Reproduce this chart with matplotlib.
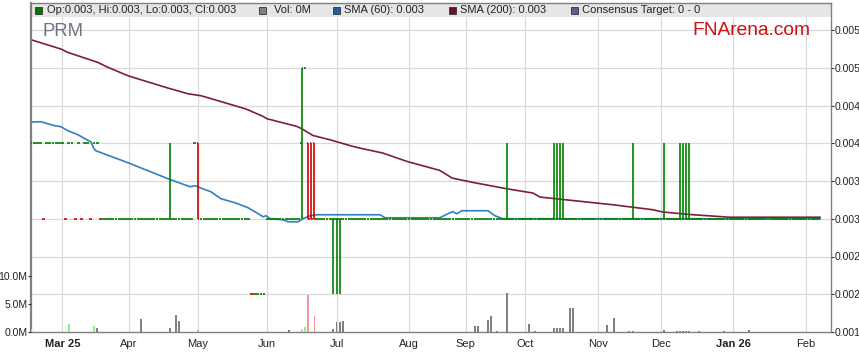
import matplotlib
matplotlib.use("Agg")
import matplotlib.pyplot as plt
from matplotlib.patches import Rectangle
from matplotlib.collections import LineCollection
import numpy as np

plt.rcParams['font.family'] = ['Liberation Sans', 'DejaVu Sans']

# ---------------- data ----------------
n_days = 251
month_labels = ['Mar 25', 'Apr', 'May', 'Jun', 'Jul', 'Aug', 'Sep', 'Oct', 'Nov', 'Dec', 'Jan 26', 'Feb']
month_start_idx = [10, 31, 53, 75, 97, 120, 138, 157, 180, 200, 223, 246]
bold_labels = ['Mar 25', 'Jan 26']

# close level runs: (first day, last day exclusive, close)
close_runs = [(0, 22, 0.004), (22, 251, 0.003)]
# flat days that closed at a different level
flat_day_idx = [4, 11, 14, 16, 19, 52, 70, 71, 72, 73, 74, 87]
flat_day_price = [0.003, 0.003, 0.003, 0.003, 0.003, 0.004, 0.002, 0.002, 0.002, 0.002, 0.002, 0.005]

# days with a trading range
bar_idx = [44, 53, 86, 88, 89, 90, 96, 97, 98, 151, 166, 167, 168, 169, 191, 201, 206, 207, 208, 209]
bar_open = [0.003, 0.004, 0.004, 0.004, 0.004, 0.004, 0.003, 0.003, 0.003, 0.003,
            0.003, 0.003, 0.003, 0.003, 0.003, 0.003, 0.003, 0.003, 0.003, 0.003]
bar_high = [0.004, 0.004, 0.005, 0.004, 0.004, 0.004, 0.003, 0.003, 0.003, 0.004,
            0.004, 0.004, 0.004, 0.004, 0.004, 0.004, 0.004, 0.004, 0.004, 0.004]
bar_low = [0.003, 0.003, 0.003, 0.003, 0.003, 0.003, 0.002, 0.002, 0.002, 0.003,
           0.003, 0.003, 0.003, 0.003, 0.003, 0.003, 0.003, 0.003, 0.003, 0.003]
bar_close = [0.003, 0.003, 0.005, 0.003, 0.003, 0.003, 0.003, 0.003, 0.003, 0.003,
             0.003, 0.003, 0.003, 0.003, 0.003, 0.003, 0.003, 0.003, 0.003, 0.003]

# volume (millions); direction u = up, d = down, n = unchanged
vol_idx = [0, 12, 20, 21, 35, 44, 46, 47, 53, 75, 82, 86, 87, 88, 90, 96, 97, 98, 99,
           141, 142, 145, 146, 148, 151, 158, 160,
           166, 167, 168, 169, 171, 172,
           183, 185, 190, 191,
           201, 205, 206, 207, 208, 209,
           212, 220, 228]
vol_m = [0.5, 1.4, 1.1, 0.7, 2.3, 0.7, 3.0, 2.0, 0.4, 0.2, 0.4, 0.6, 0.9, 6.6, 2.9, 0.6, 1.8, 1.8, 2.0,
         1.1, 1.1, 2.1, 2.9, 0.2, 7.0, 1.4, 0.2,
         0.7, 0.7, 0.7, 0.7, 4.3, 4.3,
         1.2, 2.5, 0.2, 0.2,
         0.3, 0.2, 0.2, 0.2, 0.2, 0.2,
         0.2, 0.1, 0.3]
vol_dir = ['d', 'u', 'u', 'n', 'n', 'n', 'n', 'n', 'd', 'u', 'n', 'u', 'u', 'd', 'd', 'n', 'n', 'n', 'n',
           'n', 'n', 'n', 'n', 'n', 'n', 'n', 'n',
           'n', 'n', 'n', 'n', 'n', 'n',
           'n', 'n', 'n', 'n',
           'n', 'n', 'n', 'n', 'n', 'n',
           'n', 'n', 'n']

sma60_idx = [0, 3.2, 5.4, 7.6, 9.5, 11.7, 14.9, 17.1, 19.0, 20.0, 20.6, 30.8, 43.5, 50.5, 52.1,
             53.7, 57.1, 60.3, 64.8, 68.9, 72.7, 73.7, 74.6, 75.9, 80.0, 81.6, 84.8, 86.3, 88.6,
             90.8, 110.8, 112.4, 129.8, 133.0, 134.0, 135.2, 136.8, 145.1, 147.3, 149.8, 250.5]
sma60_val = [0.004281, 0.004285, 0.004258, 0.004232, 0.004219, 0.004166, 0.004113, 0.00406,
             0.00402, 0.003927, 0.0039, 0.003742, 0.00353, 0.003424, 0.003437, 0.003411,
             0.003358, 0.003265, 0.003212, 0.003146, 0.003053, 0.003026, 0.00304, 0.003,
             0.002987, 0.00296, 0.00296, 0.003, 0.00304, 0.003053, 0.003053, 0.003013,
             0.003013, 0.003079, 0.003093, 0.003066, 0.003106, 0.003106, 0.00304, 0.003, 0.003]

sma200_idx = [0, 9.5, 11.7, 21.3, 23.8, 30.8, 34.9, 43.5, 49.8, 54, 58.4, 68.3, 73.7, 74.9,
              84.4, 86, 89.5, 94.9, 102.2, 104.4, 111.7, 119.4, 129.8, 133.7, 140.3, 151.1,
              159.4, 161.6, 184.8, 197.5, 200.6, 210.2, 221.9, 250.5]
sma200_val = [0.005371, 0.005248, 0.005203, 0.00507, 0.005017, 0.004894, 0.004841, 0.004731,
              0.004656, 0.004629, 0.004576, 0.004453, 0.004355, 0.004325, 0.004223, 0.004192,
              0.004103, 0.004046, 0.003958, 0.003936, 0.00387, 0.003759, 0.00364, 0.003539,
              0.003481, 0.003397, 0.00334, 0.003287, 0.003185, 0.003119, 0.003089, 0.003053,
              0.00302, 0.00302]

price_ticks = [0.0015, 0.002, 0.0025, 0.003, 0.0035, 0.004, 0.0045, 0.005, 0.0055]
price_tick_labels = ['0.001', '0.002', '0.002', '0.003', '0.003', '0.004', '0.004', '0.005', '0.005']
vol_ticks = [0, 5, 10]
vol_tick_labels = ['0.0M', '5.0M', '10.0M']

legend_items = ['Op:0.003, Hi:0.003, Lo:0.003, Cl:0.003', 'Vol: 0M', 'SMA (60): 0.003',
                'SMA (200): 0.003', 'Consensus Target: 0 - 0']

# ---------------- build daily OHLC ----------------
close = np.zeros(n_days)
for s, e, v in close_runs:
    close[s:e] = v
for i, v in zip(flat_day_idx, flat_day_price):
    close[i] = v
o = close.copy(); h = close.copy(); l = close.copy(); c = close.copy()
for i, bo, bh, bl, bc in zip(bar_idx, bar_open, bar_high, bar_low, bar_close):
    o[i], h[i], l[i], c[i] = bo, bh, bl, bc

# ---------------- figure ----------------
W, H = 859, 363
Lp, Rp, Tp, Bp = 31, 831, 2.7, 332
fig = plt.figure(figsize=(W / 100, H / 100), dpi=100)
fig.patch.set_facecolor('white')
ax = fig.add_axes([Lp / W, 1 - Bp / H, (Rp - Lp) / W, (Bp - Tp) / H])
axv = ax.twinx()

ax.set_xlim(0, 254)
ax.set_ylim(0.0015, 0.0015 + (Bp - Tp) / 75500)
axv.set_ylim(0, (Bp - Tp) / 28 * 5)

GREEN = '#008000'
RED = '#d40000'

# grid
for m in month_start_idx:
    ax.axvline(m, color='#d9d9d9', lw=0.9, zorder=0)
for p in price_ticks[1:]:
    ax.axhline(p, color='#d9d9d9', lw=0.9, zorder=0)

# header band
ax.add_patch(Rectangle((0, 1 - 14.3 / (Bp - Tp)), 1, 14.3 / (Bp - Tp), transform=ax.transAxes,
                       facecolor='#e6e6e6', edgecolor='none', zorder=1))

# SMA lines
ax.plot(sma200_idx, sma200_val, color='#7d1d3f', lw=1.2, zorder=2, solid_joinstyle='round')
ax.plot(sma60_idx, sma60_val, color='#2f80c4', lw=1.2, zorder=2, solid_joinstyle='round')

# price bars
segs = {'g': [], 'r': []}
hw = 0.45
for i in range(n_days):
    prev = c[i - 1] if i > 0 else c[i]
    col = 'r' if (c[i] < o[i] or c[i] < prev) else 'g'
    if h[i] > l[i]:
        segs[col].append([(i, l[i]), (i, h[i])])
    if o[i] == c[i]:
        segs[col].append([(i - hw, c[i]), (i + hw, c[i])])
    else:
        segs[col].append([(i - hw, o[i]), (i, o[i])])
        segs[col].append([(i, c[i]), (i + hw, c[i])])
ax.add_collection(LineCollection(segs['g'], colors=GREEN, linewidths=1.2, zorder=3))
ax.add_collection(LineCollection(segs['r'], colors=RED, linewidths=1.2, zorder=3))

# volume bars
vcol = {'u': '#90ee90', 'd': '#f29a9a', 'n': '#808080'}
axv.bar(vol_idx, vol_m, width=0.6, color=[vcol[d] for d in vol_dir], zorder=2, linewidth=0)

# axes styling
ax.yaxis.tick_right()
axv.yaxis.tick_left()
ax.set_yticks(price_ticks)
ax.set_yticklabels(price_tick_labels)
axv.set_yticks(vol_ticks)
axv.set_yticklabels(vol_tick_labels)
ax.set_xticks(month_start_idx)
ax.set_xticklabels(month_labels)
for t in ax.get_xticklabels():
    if t.get_text() in bold_labels:
        t.set_fontweight('bold')
ax.tick_params(axis='x', length=0, pad=5.0, labelsize=8, labelcolor='#222222')
ax.tick_params(axis='y', length=2.2, width=0.8, color='#333333', pad=0.4, labelsize=7.5, labelcolor='#222222')
axv.tick_params(axis='y', length=2.2, width=0.8, color='#333333', pad=0.3, labelsize=7.5, labelcolor='#222222')
for sp in ax.spines.values():
    sp.set_color('#808080')
    sp.set_linewidth(1.0)
ax.spines['left'].set_linewidth(1.6)
for sp in axv.spines.values():
    sp.set_visible(False)

# legend band
def fx(px):
    return px / W

def fy(py):
    return 1 - py / H

leg_sq_x = [35, 259, 333, 449, 571]
leg_tx_x = [47, 274, 344, 460, 582]
leg_colors = ['#007a00', '#808080', '#1f5fa0', '#6d0f2a', '#5c5f8f']
for sx, tx, colr, lab in zip(leg_sq_x, leg_tx_x, leg_colors, legend_items):
    fig.add_artist(Rectangle((fx(sx), fy(13.5)), 7 / W, 7 / H, transform=fig.transFigure,
                             facecolor=colr, edgecolor='#333333', linewidth=0.6, zorder=5))
    fig.text(fx(tx), fy(10), lab, fontsize=8, color='#222222', va='center', ha='left', zorder=6)

fig.text(fx(42), fy(31.5), 'PRM', fontsize=13.3, color='#6b7480', va='center', ha='left')
fig.text(fx(692), fy(30.5), 'FNArena.com', fontsize=13.8, color='#d01010', va='center', ha='left')

fig.savefig('out.png', dpi=100)
